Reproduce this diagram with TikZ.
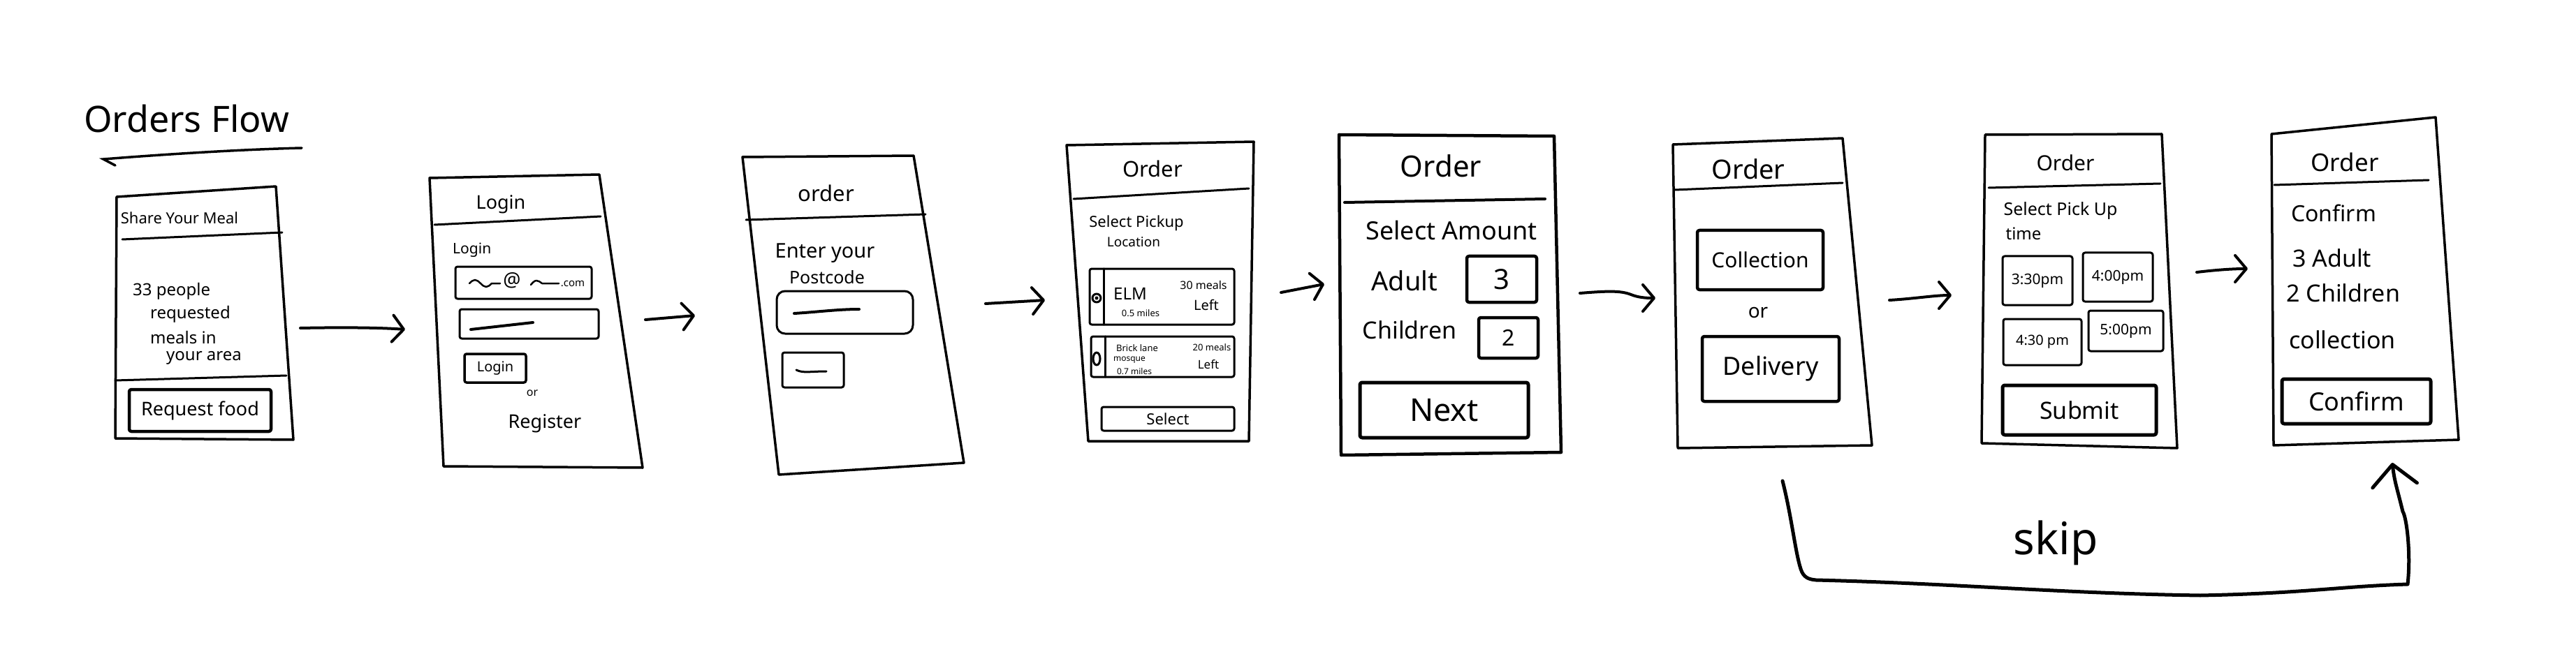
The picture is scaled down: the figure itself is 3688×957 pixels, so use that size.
\documentclass[tikz,border=0pt]{standalone}
\usepackage{fontspec}
\setmainfont{Noto Sans}
\usetikzlibrary{arrows.meta}
\newcommand{\hwsize}[1]{\fontsize{#1}{#1}\selectfont}
\begin{document}
\begin{tikzpicture}[x=1pt,y=-1pt,
  frame/.style={line width=3.5pt,line join=round,line cap=round},
  hline/.style={line width=3pt,line cap=round},
  ink/.style={line width=3pt,line cap=round,line join=round},
  btnnode/.style={draw,line width=4.5pt,rounded corners=3pt,inner sep=0pt,line join=round},
  boxnode/.style={draw,line width=3pt,rounded corners=3pt,inner sep=0pt,line join=round},
  txt/.style={inner sep=0pt,text=black},
  arr/.style={line width=4pt,line cap=round,-{Straight Barb[length=16pt,width=38pt,round]}},
]
\useasboundingbox[fill=white] (0,0) rectangle (3688,957);

% ---------- title ----------
\node[txt,font=\hwsize{52}] (title) at (267,170) {Orders Flow};
\coordinate (ulA) at (148,228);
\coordinate (ulB) at (432,212);
\draw[line width=3.5pt,line cap=round] (165,237) -- (ulA) .. controls (250,220) and (350,214) .. (ulB);

% ---------- phone 1 ----------
\draw[frame] (167,282) -- (395,267) -- (420,630) -- (165,628) -- cycle;
\draw[hline] (175,343) -- (404,333);
\draw[hline] (165,545) -- (410,538);
\node[txt,font=\hwsize{22}] (p1h) at (257,312) {Share Your Meal};
\node[txt,font=\hwsize{24},anchor=west] (p1l1) at (190,417) {33 people};
\node[txt,font=\hwsize{24},anchor=west] (p1l2) at (215,450) {requested};
\node[txt,font=\hwsize{24},anchor=west] (p1l3) at (215,483) {meals in};
\node[txt,font=\hwsize{24},anchor=west] (p1l4) at (238,513) {your area};
\node[btnnode,minimum width=203pt,minimum height=60pt,font=\hwsize{27}] (p1b) at (286.5,588) {Request food};
\coordinate (p1out) at (430,470);

% ---------- phone 2 ----------
\coordinate (p2in) at (580,472);
\draw[frame] (615,255) -- (858,250) -- (920,670) -- (635,668) -- cycle;
\draw[hline] (622,322) -- (860,310);
\node[txt,font=\hwsize{27}] (p2h) at (717,293) {Login};
\node[txt,font=\hwsize{21},anchor=west] (p2l) at (648,358) {Login};
\node[boxnode,minimum width=195pt,minimum height=46pt] (p2mail) at (749.5,405) {};
\draw[ink,line width=2.5pt] (672,406) sin (680,401) cos (688,406) sin (696,411) cos (704,406) -- (716,406);
\node[txt,font=\hwsize{28}] (p2at) at (733,402) {@};
\draw[ink,line width=2.5pt] (760,408) sin (768,402) cos (776,406) -- (800,406);
\node[txt,font=\hwsize{15}] (p2com) at (820,407) {.com};
\node[boxnode,minimum width=199pt,minimum height=42pt] (p2pw) at (757.5,464) {};
\draw[ink,line width=4pt] (674,472) -- (763,462);
\node[boxnode,line width=3.5pt,minimum width=88pt,minimum height=41pt,font=\hwsize{20}] (p2btn) at (709,527.5) {Login};
\node[txt,font=\hwsize{16}] (p2or) at (762,563) {or};
\node[txt,font=\hwsize{27}] (p2reg) at (780,607) {Register};
\coordinate (p2out) at (924,458);

% ---------- phone 3 ----------
\coordinate (p3in) at (995,452);
\draw[frame] (1063,225) -- (1308,223) -- (1380,663) -- (1115,680) -- cycle;
\draw[hline] (1068,315) -- (1325,307);
\node[txt,font=\hwsize{31}] (p3h) at (1183,277) {order};
\node[txt,font=\hwsize{29}] (p3t1) at (1181,363) {Enter your};
\node[txt,font=\hwsize{25}] (p3t2) at (1184,397) {Postcode};
\node[boxnode,rounded corners=12pt,minimum width=195pt,minimum height=61pt] (p3in1) at (1209.5,447.5) {};
\draw[ink,line width=4pt] (1137,449) .. controls (1170,447) and (1200,443) .. (1230,443);
\node[boxnode,minimum width=88pt,minimum height=50pt] (p3btn) at (1164,530) {};
\draw[ink] (1140,530) .. controls (1150,535) and (1160,532) .. (1183,532);
\coordinate (p3out) at (1411,435);

% ---------- phone 4 ----------
\coordinate (p4in) at (1496,430);
\draw[frame] (1527,208) -- (1795,203) -- (1788,632) -- (1558,632) -- cycle;
\draw[hline] (1537,285) -- (1788,270);
\node[txt,font=\hwsize{31}] (p4h) at (1650,242) {Order};
\node[txt,font=\hwsize{22}] (p4t1) at (1627,320) {Select Pickup};
\node[txt,font=\hwsize{19}] (p4t2) at (1623,347) {Location};
\node[boxnode,minimum width=207pt,minimum height=80pt] (p4loc1) at (1663.5,425) {};
\draw[ink] (1580,385) -- (1580,465);
\draw[ink] (1570,427) circle (6);
\fill (1570,427) circle (2.5);
\node[txt,font=\hwsize{24}] (p4elm) at (1618,421) {ELM};
\node[txt,font=\hwsize{13}] (p4d1) at (1633,449) {0.5 miles};
\node[txt,font=\hwsize{16}] (p4m1) at (1723,408) {30 meals};
\node[txt,font=\hwsize{20}] (p4l1) at (1727,437) {Left};
\node[boxnode,minimum width=205pt,minimum height=58pt] (p4loc2) at (1664.5,511) {};
\draw[ink] (1582,482) -- (1582,540);
\draw[ink] (1570,514) ellipse (5 and 9);
\node[txt,font=\hwsize{13}] (p4b1) at (1628,499) {Brick lane};
\node[txt,font=\hwsize{12}] (p4b2) at (1617,516) {mosque};
\node[txt,font=\hwsize{12}] (p4b3) at (1624,532) {0.7 miles};
\node[txt,font=\hwsize{13}] (p4m2) at (1735,498) {20 meals};
\node[txt,font=\hwsize{17}] (p4l2) at (1730,522) {Left};
\node[boxnode,minimum width=190pt,minimum height=34pt,font=\hwsize{22}] (p4sel) at (1672,600) {Select};
\coordinate (p4out) at (1834,419);

% ---------- phone 5 ----------
\coordinate (p5in) at (1896,407);
\draw[frame,line width=4.5pt] (1917,193) -- (2225,195) -- (2235,648) -- (1920,652) -- cycle;
\draw[hline,line width=4pt] (1925,290) -- (2212,285);
\node[txt,font=\hwsize{42}] (p5h) at (2063,238) {Order};
\node[txt,font=\hwsize{36}] (p5t) at (2078,330) {Select Amount};
\node[txt,font=\hwsize{38}] (p5a) at (2011,402) {Adult};
\node[btnnode,minimum width=100pt,minimum height=66pt,font=\hwsize{40}] (p5n3) at (2150,400) {3};
\node[txt,font=\hwsize{34}] (p5c) at (2018,473) {Children};
\node[btnnode,minimum width=85pt,minimum height=58pt,font=\hwsize{32}] (p5n2) at (2159.5,484) {2};
\node[btnnode,line width=5pt,minimum width=241pt,minimum height=79pt,font=\hwsize{45}] (p5next) at (2067.5,587.5) {Next};
\coordinate (p5out) at (2262,420);

% ---------- phone 6 ----------
\coordinate (p6in) at (2370,427);
\draw[frame] (2395,207) -- (2638,198) -- (2680,638) -- (2402,642) -- cycle;
\draw[hline] (2398,272) -- (2638,262);
\node[txt,font=\hwsize{38}] (p6h) at (2503,242) {Order};
\node[btnnode,minimum width=180pt,minimum height=85pt,font=\hwsize{30}] (p6col) at (2520,372.5) {Collection};
\node[txt,font=\hwsize{28}] (p6or) at (2517,448) {or};
\node[btnnode,minimum width=196pt,minimum height=93pt,font=\hwsize{36}] (p6del) at (2535,528.5) {Delivery};
\coordinate (p6out) at (2705,430);
\coordinate (p6skip) at (2552,689);

% ---------- phone 7 ----------
\coordinate (p7in) at (2794,423);
\draw[frame] (2842,193) -- (3095,192) -- (3117,642) -- (2837,635) -- cycle;
\draw[hline] (2847,269) -- (3093,263);
\node[txt,font=\hwsize{30}] (p7h) at (2957,233) {Order};
\node[txt,font=\hwsize{25}] (p7t1) at (2950,302) {Select Pick Up};
\node[txt,font=\hwsize{24}] (p7t2) at (2897,335) {time};
\node[boxnode,minimum width=100pt,minimum height=70pt,font=\hwsize{21}] (p7s1) at (2917,402) {3:30pm};
\node[boxnode,minimum width=100pt,minimum height=70pt,font=\hwsize{21}] (p7s2) at (3032,397) {4:00pm};
\node[boxnode,minimum width=112pt,minimum height=66pt,font=\hwsize{20}] (p7s3) at (2924,490) {4:30 pm};
\node[boxnode,minimum width=107pt,minimum height=58pt,font=\hwsize{21}] (p7s4) at (3043.5,474) {5:00pm};
\node[btnnode,line width=5pt,minimum width=220pt,minimum height=71pt,font=\hwsize{34}] (p7sub) at (2977,587.5) {Submit};
\coordinate (p7out) at (3145,390);

% ---------- phone 8 ----------
\coordinate (p8in) at (3218,385);
\draw[frame] (3252,192) -- (3487,168) -- (3520,630) -- (3255,638) -- cycle;
\draw[hline] (3256,265) -- (3477,258);
\node[txt,font=\hwsize{35}] (p8h) at (3357,232) {Order};
\node[txt,font=\hwsize{32},anchor=west] (p8t1) at (3280,305) {Confirm};
\node[txt,font=\hwsize{34},anchor=west] (p8t2) at (3282,370) {3 Adult};
\node[txt,font=\hwsize{34},anchor=west] (p8t3) at (3273,420) {2 Children};
\node[txt,font=\hwsize{34},anchor=west] (p8t4) at (3277,487) {collection};
\node[btnnode,line width=5pt,minimum width=213pt,minimum height=64pt,font=\hwsize{36}] (p8conf) at (3373.5,575) {Confirm};
\coordinate (p8skip) at (3425,663);

% ---------- flow arrows ----------
\draw[arr] (p1out) .. controls (480,469) and (540,469) .. (p2in);
\draw[arr] (p2out) -- (p3in);
\draw[arr] (p3out) -- (p4in);
\draw[arr] (p4out) -- (p5in);
\draw[arr] (p5out) .. controls (2300,417) and (2320,416) .. (2335,422) .. controls (2345,426) and (2355,427) .. (p6in);
\draw[arr] (p6out) .. controls (2740,428) and (2770,423) .. (p7in);
\draw[arr] (p7out) .. controls (3170,387) and (3195,385) .. (p8in);

% ---------- skip ----------
\draw[line width=5pt,line cap=round,line join=round,-{Straight Barb[length=30pt,width=64pt,round]}]
  (p6skip) .. controls (2565,740) and (2570,790) .. (2578,815)
  .. controls (2582,828) and (2590,830) .. (2600,831)
  .. controls (2800,836) and (2950,850) .. (3150,853)
  .. controls (3300,850) and (3350,840) .. (3447,837)
  .. controls (3452,790) and (3445,740) .. (3440,733)
  .. controls (3432,700) and (3428,690) .. (p8skip);
\node[txt,font=\hwsize{64}] (skip) at (2943,778) {skip};
\end{tikzpicture}
\end{document}
